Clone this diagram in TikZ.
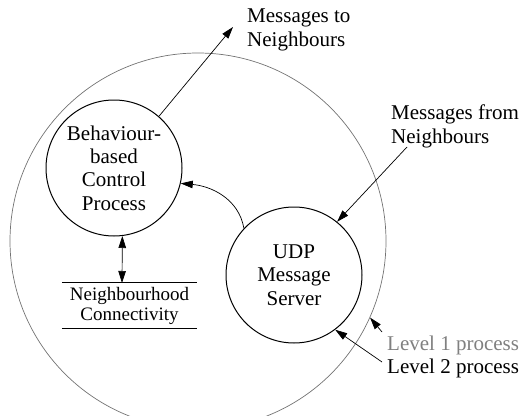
\documentclass[tikz,border=0pt]{standalone}
\usepackage{fontspec}
\setmainfont{Liberation Serif}
\usetikzlibrary{arrows.meta}
\begin{document}
\begin{tikzpicture}[x=1pt,y=1pt,
  proc/.style={circle,draw=black,line width=1pt,minimum size=136pt,inner sep=0pt,align=center,
    font=\fontsize{21}{23.3}\selectfont},
  lbl/.style={inner sep=0pt,align=left,font=\fontsize{21}{23.3}\selectfont},
  conn/.style={line width=0.7pt,-{Triangle[length=12pt,width=7.5pt]}},
  dconn/.style={line width=0.7pt,{Triangle[length=12pt,width=7.5pt]}-{Triangle[length=12pt,width=7.5pt]}}
]
\useasboundingbox (0,0) rectangle (527,-415);
\node[circle,draw=black!55,line width=0.7pt,minimum size=376pt,inner sep=0pt] (outer) at (198,-241) {};
\node[proc] (bcp) at (114,-168) {Behaviour-\\based\\Control\\Process};
\node[proc] (udp) at (294,-275) {UDP\\Message\\Server};
\node[inner sep=0pt,minimum width=135pt,minimum height=45pt,align=center,
  font=\fontsize{19}{20}\selectfont] (nc) at (129.5,-305.5) {Neighbourhood\\Connectivity};
\draw[line width=0.8pt] (nc.north west) -- (nc.north east);
\draw[line width=0.8pt] (nc.south west) -- (nc.south east);
\node[lbl,anchor=west] (mto) at (247,-30) {Messages to\\Neighbours};
\node[lbl,anchor=west] (mfrom) at (391,-126.5) {Messages from\\Neighbours};
\node[lbl,anchor=west,text=black!50] (l1) at (387,-345) {Level 1 process};
\node[lbl,anchor=west] (l2) at (387,-368) {Level 2 process};
\coordinate (mtoend) at (233,-27);
\coordinate (mfromstart) at (407,-147);
\coordinate (l1start) at (382,-332);
\coordinate (l2start) at (382,-362);
\coordinate (ncTop) at (122,-283);
\draw[conn] (bcp.49) -- (mtoend);
\draw[conn] (mfromstart) -- (udp.51.5);
\draw[conn] (udp.137) to[out=100,in=-5] (bcp.-13);
\draw[dconn] (bcp.-83) -- (ncTop);
\draw[conn] (l1start) -- (outer.-24.5);
\draw[conn] (l2start) -- (udp.-53);
\end{tikzpicture}
\end{document}
